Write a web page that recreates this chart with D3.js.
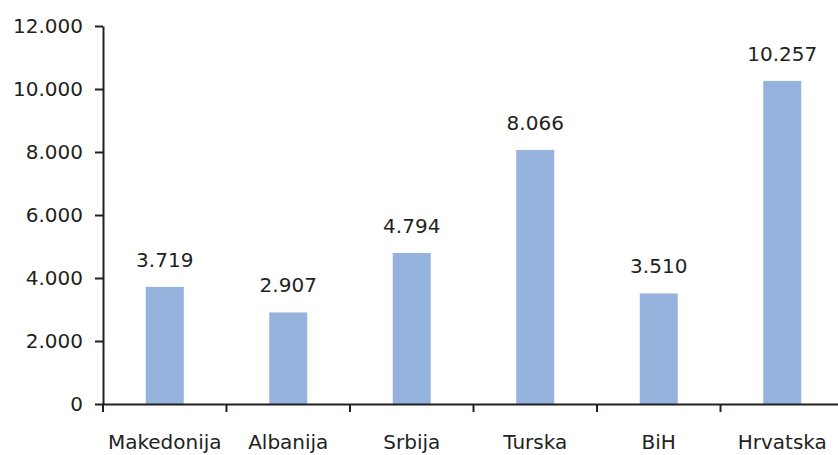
<!DOCTYPE html>
<html>
<head>
<meta charset="utf-8">
<script src="https://cdn.jsdelivr.net/npm/d3@7"></script>
<style>
  body { margin: 0; background: #fff; }
  text { font-family: "DejaVu Sans", sans-serif; fill: #231f20; }
</style>
</head>
<body>
<div id="chart"></div>
<script>
const countries = ["Makedonija", "Albanija", "Srbija", "Turska", "BiH", "Hrvatska"];
const values = [3719, 2907, 4794, 8066, 3510, 10257];
const yTicks = [0, 2000, 4000, 6000, 8000, 10000, 12000];

const W = 838, H = 455;
const plotLeft = 103, plotTop = 26, plotBottom = 404;
const fontSize = "20px";

const fmt = v => d3.format(",")(v).replace(/,/g, ".");

const svg = d3.select("#chart").append("svg")
  .attr("width", W).attr("height", H);

const x = d3.scaleBand()
  .domain(countries)
  .range([plotLeft, plotLeft + 6 * 123.5])
  .paddingInner(0).paddingOuter(0);

const y = d3.scaleLinear().domain([0, 12000]).range([plotBottom, plotTop]);

const barW = 38;

// bars
svg.selectAll("rect.bar")
  .data(values)
  .join("rect")
  .attr("class", "bar")
  .attr("x", (d, i) => x(countries[i]) + x.bandwidth() / 2 - barW / 2)
  .attr("y", d => y(d))
  .attr("width", barW)
  .attr("height", d => plotBottom - y(d))
  .style("fill", "#95b3dd");

// value labels
svg.selectAll("text.val")
  .data(values)
  .join("text")
  .attr("class", "val")
  .attr("x", (d, i) => x(countries[i]) + x.bandwidth() / 2)
  .attr("y", d => y(d) - 20)
  .attr("text-anchor", "middle")
  .style("font-size", fontSize)
  .text(d => fmt(d));

// y axis
const yAxis = svg.append("g")
  .attr("transform", "translate(" + plotLeft + ",0)")
  .call(d3.axisLeft(y).tickValues(yTicks).tickSize(8).tickPadding(12).tickSizeOuter(0).tickFormat(fmt));
yAxis.select(".domain").attr("stroke", "#231f20").attr("stroke-width", 2);
yAxis.selectAll(".tick line").attr("stroke", "#231f20").attr("stroke-width", 2);
yAxis.selectAll("text").style("font-size", fontSize).attr("fill", "#231f20");

// x axis
const xAxis = svg.append("g")
  .attr("transform", "translate(0," + plotBottom + ")")
  .call(d3.axisBottom(x).tickSize(0).tickPadding(31).tickSizeOuter(0));
xAxis.select(".domain").attr("stroke", "#231f20").attr("stroke-width", 2);
xAxis.selectAll("text").style("font-size", fontSize).attr("fill", "#231f20");

// category boundary ticks
const bounds = countries.map(c => x(c)).concat([x.range()[1]]);
xAxis.selectAll("line.bound")
  .data(bounds)
  .join("line")
  .attr("class", "bound")
  .attr("x1", d => d).attr("x2", d => d)
  .attr("y1", 0).attr("y2", 8)
  .attr("stroke", "#231f20").attr("stroke-width", 2);
</script>
</body>
</html>
